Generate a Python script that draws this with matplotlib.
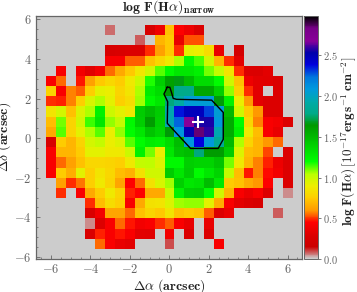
import numpy as np
import matplotlib
matplotlib.use("Agg")
import matplotlib.pyplot as plt

n = np.nan

# log F(Halpha) por celda, fila superior primero
flux_rows = [
    [n,n,n,n,n,n,.08,n,n,n,.25,.38,.72,.45,.38,.28,n,n,n,n,n,n,n,n,n],
    [n,n,n,n,n,n,n,n,n,.09,n,.68,.74,.35,.53,.53,n,n,n,n,n,n,n,n,n],
    [n,n,n,n,n,n,.25,.27,.28,.28,.5,.62,.74,.5,.93,.9,.82,.35,n,.22,n,n,n,n,n],
    [n,n,n,n,n,n,.42,.42,.54,.54,.72,.8,.88,1.05,1.22,1.13,.98,.68,.5,.33,n,n,n,n,n],
    [n,.42,n,.4,.32,.4,.55,.65,.74,.87,.98,1.12,1.22,1.3,1.3,1.25,1.1,1.02,.85,.5,.3,.28,.33,n,n],
    [.42,.55,n,.47,.62,.74,.8,.75,.88,1.0,1.17,1.4,1.6,1.66,1.5,1.35,1.34,1.2,.98,.72,.38,.33,.32,.28,n],
    [.78,.42,.58,.54,.76,.93,.9,.78,.85,1.05,1.27,1.35,1.62,1.8,1.8,1.58,1.58,1.4,1.08,.76,.5,.33,n,.3,n],
    [.5,.48,.58,.76,.96,1.05,.92,.76,.82,1.06,1.22,1.3,1.78,1.9,2.05,2.05,2.05,1.65,1.25,.9,.6,.33,.3,.3,n],
    [.85,.97,.72,.95,1.05,1.25,1.0,.92,.87,1.42,1.5,1.42,1.95,2.36,2.47,2.47,2.3,2.05,1.5,.98,.74,.6,.3,.3,n],
    [.7,1.1,.78,.98,1.15,1.3,1.08,1.02,1.22,1.4,1.62,1.4,1.95,2.25,2.68,2.55,2.55,2.08,1.55,1.2,.8,.58,.42,.4,.3],
    [.65,1.12,.78,.92,1.05,1.12,.9,1.08,1.2,1.3,1.45,1.38,1.65,2.1,2.5,2.85,2.58,1.95,1.55,1.25,.88,.7,.42,.35,n],
    [.25,.75,.68,.78,.97,1.02,.9,.95,1.12,1.2,1.27,1.25,1.35,1.48,2.08,2.38,2.08,1.85,1.5,1.05,.78,.68,.6,.55,n],
    [.42,.68,.68,.75,.92,.92,.88,.88,1.0,1.25,1.1,.9,1.3,1.45,1.48,1.78,1.62,1.62,1.42,.95,.7,.68,.52,n,.3],
    [.42,.55,.62,.72,.8,.8,.78,.76,.88,1.02,1.03,.95,1.22,1.22,1.4,1.38,1.38,1.45,1.1,.88,.68,.58,.48,.38,.3],
    [.42,.75,.66,.93,.76,.85,.8,.7,.67,.84,.98,.98,1.42,1.3,1.42,1.2,1.3,1.38,1.02,.7,.47,.58,.46,.4,.3],
    [n,.62,.5,.57,.76,.88,.78,.63,.45,.55,.84,.96,1.07,1.4,1.3,1.32,1.48,1.3,.75,.72,.65,.6,.45,n,.3],
    [n,.5,n,.42,.65,.75,.88,.78,.48,.45,.65,.65,1.0,1.25,1.4,1.42,1.2,.98,.68,.42,.37,.42,.3,n,.05],
    [n,n,n,n,.5,.7,.82,.76,.42,.65,.84,.85,.95,1.07,1.08,1.08,.93,.66,.42,.33,.28,.25,n,n,n],
    [n,n,n,n,.27,.4,.63,.63,.55,.72,.78,.74,.85,.72,.74,.72,.54,.3,.35,n,n,n,n,.09,n],
    [n,n,n,n,.05,.3,.42,.55,.47,.4,.42,.5,.54,.42,.35,n,.35,n,n,n,n,n,n,n,n],
    [n,n,n,n,.27,.48,.43,.47,.43,.33,.32,n,.4,n,.28,n,.3,n,n,n,n,n,n,n,n],
    [n,n,n,n,n,.55,.42,.35,.33,n,n,n,.1,n,n,n,n,.42,n,n,n,n,n,n,n],
]

# contorno
contour_x = [-.10,.03,.12,.20,.37,2.15,2.74,2.74,2.48,1.08,-.10,-.08,-.27,-.10]
contour_y = [2.57,2.57,2.29,2.01,1.96,1.92,1.30,-.06,-.52,-.52,.75,1.84,2.23,2.57]

peak_x = [1.47]
peak_y = [.83]

x_ticks = [-6, -4, -2, 0, 2, 4, 6]
y_ticks = [-6, -4, -2, 0, 2, 4, 6]
cbar_ticks = [0.0, 0.5, 1.0, 1.5, 2.0, 2.5]

plt.rcParams["font.family"] = ["cmr10", "DejaVu Serif"]
plt.rcParams["mathtext.fontset"] = "cm"
plt.rcParams["axes.formatter.use_mathtext"] = True
plt.rcParams["axes.unicode_minus"] = False

gray = "#666666"
W, H = 357, 292

fig = plt.figure(figsize=(W / 100, H / 100), dpi=100)
ax = fig.add_axes([36 / W, 1 - 258.7 / H, 266.3 / W, 242.7 / H])
ax.set_facecolor("0.8")

cmap = plt.get_cmap("nipy_spectral_r")
im = ax.imshow(np.array(flux_rows, dtype=float), cmap=cmap, vmin=0, vmax=2.98,
               extent=[-6.25, 6.25, -5.62, 5.66], aspect="auto", interpolation="nearest")
ax.plot(contour_x, contour_y, color="black", lw=1.0)
ax.plot(peak_x, peak_y, marker="+", color="white", ms=8, mew=1.5, ls="none")

ax.set_xlim(-6.76, 6.75)
ax.set_ylim(-6.09, 6.17)
ax.set_xticks(x_ticks)
ax.set_yticks(y_ticks)
ax.set_xticks(np.arange(-6.5, 7, 0.5), minor=True)
ax.set_yticks(np.arange(-6, 6.5, 0.5), minor=True)
ax.tick_params(which="major", direction="in", length=3, width=0.6, color=gray,
               labelcolor=gray, labelsize=9, pad=3)
ax.tick_params(which="minor", direction="in", length=1.5, width=0.5, color=gray)
for s in ax.spines.values():
    s.set_color(gray)
    s.set_linewidth(0.9)

ax.set_xlabel(r"$\mathbf{\Delta}\alpha\ \mathbf{(arcsec)}$", fontsize=10, color="#222222")
ax.xaxis.set_label_coords(0.5, -0.075)
ax.set_ylabel(r"$\mathbf{\Delta}\delta\ \mathbf{(arcsec)}$", fontsize=10, color="#222222")
ax.yaxis.set_label_coords(-0.085, 0.5)
ax.set_title(r"$\mathbf{log\ F(H}\alpha\mathbf{)_{narrow}}$", fontsize=10, pad=1.5, color="#222222")

cax = fig.add_axes([304 / W, 1 - 259.3 / H, 13.7 / W, 243.3 / H])
cbar = fig.colorbar(im, cax=cax)
cbar.set_ticks(cbar_ticks)
cbar.ax.tick_params(direction="out", length=2.5, width=0.6, color=gray,
                    labelcolor=gray, labelsize=7.5, pad=1.5)
cbar.outline.set_edgecolor(gray)
cbar.outline.set_linewidth(0.7)
cbar.set_label(r"$\mathbf{log\ F(H}\alpha\mathbf{)\,[10^{-17}erg\,s^{-1}\,cm^{-2}]}$",
               fontsize=9.5, color="#222222")
cax.yaxis.set_label_coords(2.63, 0.486)

plt.savefig("out.png", dpi=100)
plt.close()
